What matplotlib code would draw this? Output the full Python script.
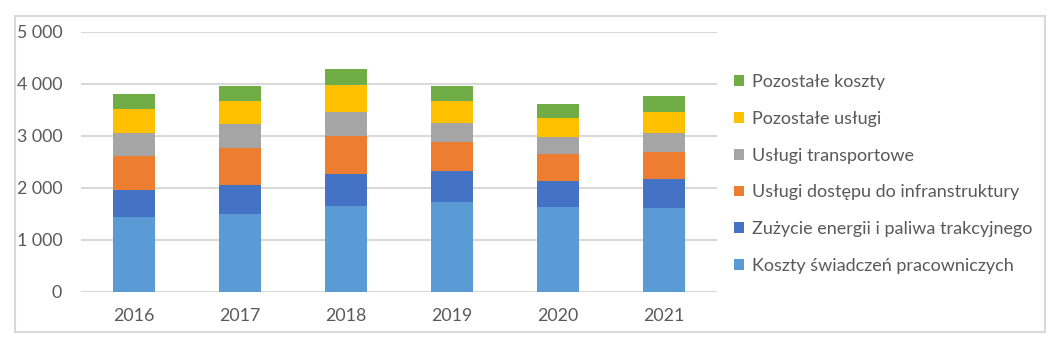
import matplotlib
matplotlib.use("Agg")
import matplotlib.pyplot as plt
from matplotlib.patches import Rectangle
import numpy as np

years = ["2016", "2017", "2018", "2019", "2020", "2021"]
series_names = [
    "Koszty świadczeń pracowniczych",
    "Zużycie energii i paliwa trakcyjnego",
    "Usługi dostępu do infranstruktury",
    "Usługi transportowe",
    "Pozostałe usługi",
    "Pozostałe koszty",
]
koszty_swiadczen = [1436, 1494, 1647, 1724, 1628, 1609]
zuzycie_energii = [519, 557, 616, 597, 500, 558]
uslugi_dostepu = [654, 718, 731, 564, 519, 519]
uslugi_transportowe = [442, 462, 461, 359, 327, 365]
pozostale_uslugi = [462, 436, 519, 423, 366, 404]
pozostale_koszty = [288, 288, 308, 288, 269, 308]
series_values = [koszty_swiadczen, zuzycie_energii, uslugi_dostepu,
                 uslugi_transportowe, pozostale_uslugi, pozostale_koszty]
colors = ["#5B9BD5", "#4472C4", "#ED7D31", "#A5A5A5", "#FFC000", "#70AD47"]
y_ticks = [0, 1000, 2000, 3000, 4000, 5000]
y_labels = ["0", "1 000", "2 000", "3 000", "4 000", "5 000"]

plt.rcParams['font.family'] = ['Lato', 'DejaVu Sans']
text_color = "#595959"
grid_color = "#D9D9D9"

W, H = 1063, 343
fig = plt.figure(figsize=(W / 100, H / 100), dpi=100)
fig.patch.set_facecolor("white")

# outer border
fig.add_artist(Rectangle((14.5 / W, (H - 331.5) / H), (1044.5 - 14.5) / W, (331.5 - 16) / H,
                         transform=fig.transFigure, fill=False, edgecolor=grid_color, linewidth=1.5))

ax = fig.add_axes([81 / W, (H - 291.7) / H, (717 - 81) / W, (291.7 - 31.7) / H])
x = np.arange(len(years))
bottom = np.zeros(len(years))
handles = []
for name, vals, c in zip(series_names, series_values, colors):
    b = ax.bar(x, vals, width=0.4, bottom=bottom, color=c, label=name, zorder=3)
    handles.append(b)
    bottom += np.array(vals)

ax.set_xlim(-0.5, len(years) - 0.5)
ax.set_ylim(0, 5000)
ax.set_yticks(y_ticks)
ax.set_yticklabels(y_labels)
ax.set_xticks(x)
ax.set_xticklabels(years)
ax.yaxis.grid(True, color=grid_color, linewidth=1.5, zorder=0)
ax.set_axisbelow(True)
for s in ax.spines.values():
    s.set_visible(False)
ax.tick_params(axis='both', length=0, labelsize=12.8, colors=text_color)
ax.tick_params(axis='y', pad=13.5)
ax.tick_params(axis='x', pad=12)

leg = fig.legend(handles[::-1], series_names[::-1], loc='center left',
                 bbox_to_anchor=(734 / W, (H - 174) / H), frameon=False,
                 fontsize=13.0, handlelength=0.56, handleheight=0.56, handletextpad=0.42,
                 labelspacing=1.15, labelcolor=text_color, borderaxespad=0, borderpad=0)

fig.savefig("out.png", dpi=100, facecolor="white")
